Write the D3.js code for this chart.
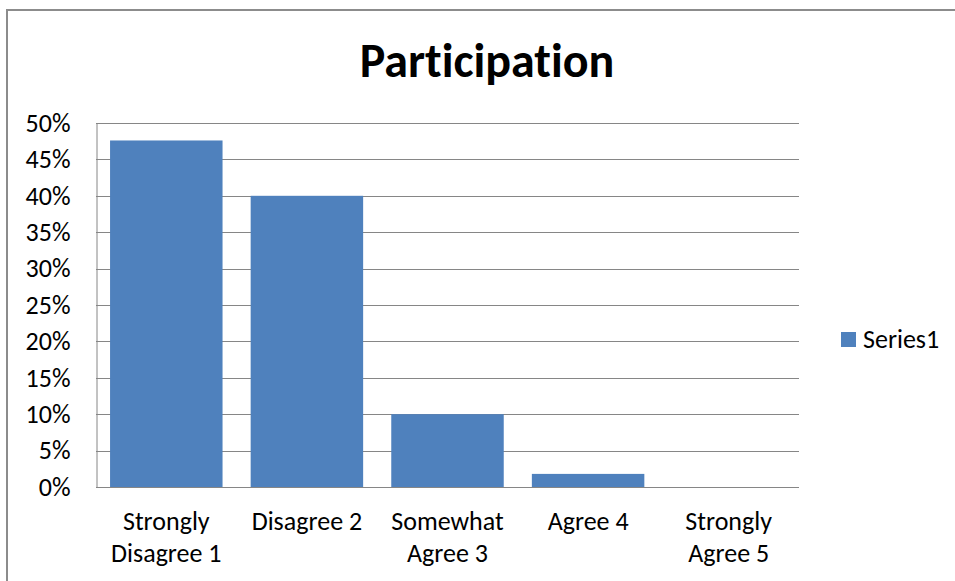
<!DOCTYPE html>
<html>
<head>
<meta charset="utf-8">
<script src="https://cdn.jsdelivr.net/npm/d3@7"></script>
<style>
  html, body { margin: 0; padding: 0; background: #fff; }
  svg { display: block; font-family: Carlito, Lato, "Open Sans", sans-serif; font-variant-ligatures: none; }
</style>
</head>
<body>
<svg id="chart" width="955" height="581"></svg>
<script>
// Survey responses: share of participants per answer
const categories = ["Strongly Disagree 1", "Disagree 2", "Somewhat Agree 3", "Agree 4", "Strongly Agree 5"];
const categoryLines = [["Strongly", "Disagree 1"], ["Disagree 2"], ["Somewhat", "Agree 3"], ["Agree 4"], ["Strongly", "Agree 5"]];
const series1 = [0.476, 0.40, 0.10, 0.018, 0];
const yTicks = [0, 0.05, 0.10, 0.15, 0.20, 0.25, 0.30, 0.35, 0.40, 0.45, 0.50];
const seriesName = "Series1";
const chartTitle = "Participation";

const svg = d3.select("#chart");
const barColor = "#4f81bd";
const gridColor = "#868686";
const labelSize = 26;

// outer chart frame
svg.append("rect")
  .attr("x", 7).attr("y", 10)
  .attr("width", 960).attr("height", 600)
  .attr("fill", "#fff")
  .attr("stroke", "#8c8c8c")
  .attr("stroke-width", 2);

const plot = { left: 96, right: 799, top: 123, bottom: 487 };

const x = d3.scaleBand()
  .domain(categories)
  .range([plot.left, plot.right])
  .paddingInner(0.2)
  .paddingOuter(0.1);

const y = d3.scaleLinear()
  .domain([0, 0.5])
  .range([plot.bottom, plot.top]);

// horizontal gridlines
svg.append("g")
  .selectAll("line")
  .data(yTicks)
  .join("line")
  .attr("x1", plot.left).attr("x2", plot.right)
  .attr("y1", d => Math.round(y(d)) + 0.5)
  .attr("y2", d => Math.round(y(d)) + 0.5)
  .attr("stroke", gridColor)
  .attr("stroke-width", 1);

// bars
svg.append("g")
  .selectAll("rect")
  .data(series1)
  .join("rect")
  .attr("x", (d, i) => x(categories[i]))
  .attr("y", d => y(d))
  .attr("width", x.bandwidth())
  .attr("height", d => y(0) - y(d))
  .attr("fill", barColor);

// y axis
const yAxis = d3.axisLeft(y)
  .tickValues(yTicks)
  .tickFormat(d3.format(".0%"))
  .tickSize(0)
  .tickPadding(26);
const gy = svg.append("g")
  .attr("transform", `translate(${plot.left + 0.5},0)`)
  .call(yAxis);
gy.select(".domain").attr("stroke", gridColor);
gy.selectAll("text")
  .attr("font-size", labelSize)
  .attr("fill", "#000")
  .attr("font-family", "Carlito, Lato, sans-serif");

// x axis line
svg.append("line")
  .attr("x1", plot.left).attr("x2", plot.right)
  .attr("y1", plot.bottom + 0.5).attr("y2", plot.bottom + 0.5)
  .attr("stroke", gridColor);

// category labels, wrapped
const xl = svg.append("g")
  .selectAll("text")
  .data(categories)
  .join("text")
  .attr("x", d => x(d) + x.bandwidth() / 2)
  .attr("y", 530)
  .attr("text-anchor", "middle")
  .attr("font-size", labelSize)
  .attr("fill", "#000");
xl.each(function(d, i) {
  d3.select(this).selectAll("tspan")
    .data(categoryLines[i])
    .join("tspan")
    .attr("x", x(d) + x.bandwidth() / 2)
    .attr("dy", (t, j) => j === 0 ? 0 : 32)
    .text(t => t);
});

// title
svg.append("text")
  .attr("x", 487)
  .attr("y", 77)
  .attr("text-anchor", "middle")
  .attr("font-size", 48)
  .attr("font-weight", "bold")
  .attr("fill", "#000")
  .text(chartTitle);

// legend
const legend = svg.append("g").attr("transform", "translate(841,332)");
legend.append("rect")
  .attr("width", 15).attr("height", 15)
  .attr("fill", barColor);
legend.append("text")
  .attr("x", 22).attr("y", 16)
  .attr("font-size", labelSize)
  .attr("fill", "#000")
  .text(seriesName);
</script>
</body>
</html>
